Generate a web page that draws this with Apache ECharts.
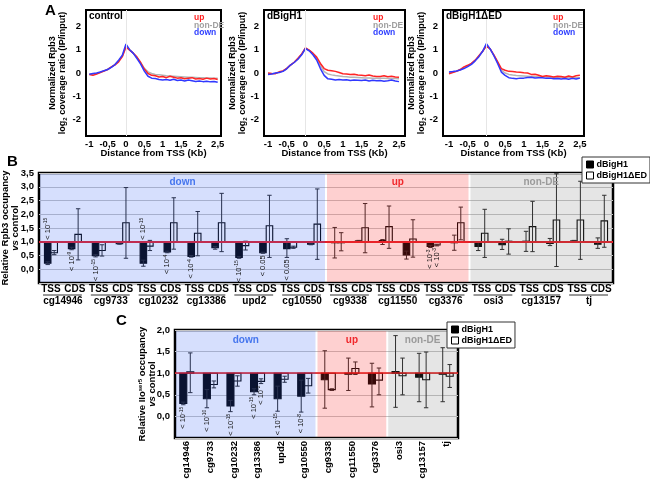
<!DOCTYPE html>
<html><head><meta charset="utf-8">
<script src="https://cdn.jsdelivr.net/npm/echarts@6/dist/echarts.min.js"></script>
<style>html,body{margin:0;padding:0;background:#fff}#c{width:650px;height:479px}</style>
</head><body><div id="c"></div>
<script>
// ---------- Panel A data ----------
const distX = [-1.0,-0.9,-0.8,-0.7,-0.6,-0.5,-0.4,-0.3,-0.2,-0.1,0.0,0.1,0.2,0.3,0.4,0.5,0.6,0.7,0.8,0.9,1.0,1.1,1.2,1.3,1.4,1.5,1.6,1.7,1.8,1.9,2.0,2.1,2.2,2.3,2.4,2.5];
const ctrlUp   = [-0.06,-0.10,-0.04,0.02,0.08,0.15,0.26,0.35,0.48,0.70,1.12,0.98,0.85,0.68,0.45,0.17,-0.02,-0.10,-0.12,-0.17,-0.15,-0.20,-0.14,-0.18,-0.22,-0.20,-0.25,-0.22,-0.20,-0.26,-0.24,-0.27,-0.22,-0.26,-0.24,-0.28];
const ctrlNon  = [-0.05,-0.05,-0.02,0.03,0.09,0.16,0.25,0.36,0.52,0.73,1.16,0.99,0.85,0.66,0.44,0.20,0.05,-0.02,-0.06,-0.08,-0.10,-0.12,-0.13,-0.14,-0.15,-0.16,-0.17,-0.18,-0.18,-0.19,-0.20,-0.20,-0.21,-0.21,-0.22,-0.22];
const ctrlDown = [-0.05,-0.02,0.00,0.04,0.10,0.15,0.24,0.36,0.55,0.76,1.24,1.00,0.84,0.62,0.38,0.08,-0.14,-0.22,-0.24,-0.28,-0.30,-0.28,-0.31,-0.27,-0.32,-0.30,-0.34,-0.30,-0.33,-0.36,-0.34,-0.37,-0.35,-0.38,-0.36,-0.40];
const h1Up   = [0.00,-0.02,-0.03,0.05,0.09,0.20,0.34,0.46,0.63,0.82,1.08,0.98,0.85,0.68,0.41,0.19,0.12,0.10,0.07,0.02,-0.03,-0.04,-0.06,-0.05,-0.09,-0.10,-0.12,-0.09,-0.13,-0.15,-0.15,-0.12,-0.16,-0.14,-0.17,-0.18];
const h1Non  = [-0.03,-0.03,-0.01,0.04,0.08,0.19,0.34,0.46,0.61,0.80,1.06,0.97,0.82,0.62,0.32,0.06,-0.04,-0.08,-0.11,-0.13,-0.15,-0.16,-0.18,-0.18,-0.19,-0.20,-0.21,-0.21,-0.22,-0.22,-0.23,-0.23,-0.24,-0.24,-0.24,-0.25];
const h1Down = [-0.06,-0.04,0.00,0.02,0.07,0.18,0.34,0.45,0.59,0.78,1.05,0.95,0.78,0.56,0.19,-0.10,-0.25,-0.27,-0.30,-0.28,-0.30,-0.29,-0.32,-0.30,-0.31,-0.32,-0.30,-0.34,-0.31,-0.33,-0.32,-0.35,-0.33,-0.30,-0.34,-0.37];
const edUp   = [-0.03,0.02,0.07,0.15,0.26,0.33,0.41,0.55,0.74,0.93,1.15,1.03,0.78,0.49,0.19,0.12,0.07,0.06,0.04,0.03,0.01,0.00,-0.06,-0.05,-0.10,-0.15,-0.12,-0.14,-0.17,-0.14,-0.15,-0.18,-0.13,-0.17,-0.12,-0.10];
const edNon  = [0.00,0.04,0.08,0.14,0.22,0.30,0.39,0.53,0.72,0.93,1.20,1.03,0.76,0.45,0.12,0.00,-0.06,-0.09,-0.11,-0.12,-0.13,-0.14,-0.15,-0.15,-0.16,-0.16,-0.17,-0.17,-0.18,-0.18,-0.18,-0.19,-0.19,-0.19,-0.20,-0.20];
const edDown = [0.04,0.06,0.09,0.13,0.19,0.27,0.37,0.52,0.70,0.93,1.26,1.03,0.74,0.41,0.04,-0.10,-0.20,-0.23,-0.25,-0.22,-0.22,-0.19,-0.18,-0.21,-0.20,-0.20,-0.23,-0.22,-0.25,-0.24,-0.26,-0.24,-0.27,-0.23,-0.26,-0.22];
const aXTicks = [-1,-0.5,0,0.5,1,1.5,2,2.5];
const aYTicks = [-2,-1,0,1,2];

// ---------- Panel B data ----------
const bGenes = ['cg14946','cg9733','cg10232','cg13386','upd2','cg10550','cg9338','cg11550','cg3376','osi3','cg13157','tj'];
const bCats = ['TSS','CDS','TSS','CDS','TSS','CDS','TSS','CDS','TSS','CDS','TSS','CDS','TSS','CDS','TSS','CDS','TSS','CDS','TSS','CDS','TSS','CDS','TSS','CDS'];
const bBlack   = [0.22,0.75,0.49,0.93,0.22,0.63,0.47,0.78,0.43,0.60,0.75,0.91,0.98,1.03,1.04,0.52,0.83,0.98,0.83,0.89,1.02,0.94,1.03,0.91];
const bBlackLo = [0.17,0.71,0.45,0.91,0.11,0.60,0.44,0.73,0.40,0.58,0.43,0.89,0.41,1.01,0.90,0.37,0.79,0.69,0.68,0.72,0.65,0.86,1.01,0.76];
const bBlackHi = [0.27,0.80,0.53,0.95,0.33,0.66,0.50,0.83,0.46,0.62,1.11,0.93,1.52,1.05,1.08,0.66,0.87,1.24,0.98,1.09,1.38,1.12,1.05,1.14];
const bWhite   = [0.60,1.27,0.68,1.69,0.84,1.69,1.31,1.69,0.86,1.58,0.80,1.64,0.98,1.51,1.55,1.10,0.88,1.69,1.31,1.02,1.55,1.79,1.79,1.76];
const bWhiteLo = [0.53,0.34,0.48,0.40,0.68,0.73,0.49,0.64,0.70,0.43,0.76,0.36,0.67,0.60,0.76,0.44,0.85,1.07,0.43,0.55,0.64,0.10,0.36,0.80];
const bWhiteHi = [0.68,2.20,0.89,2.97,1.05,2.60,2.10,2.76,1.02,2.69,0.84,2.92,1.33,2.39,2.30,1.80,0.91,2.26,2.18,1.47,2.47,3.47,3.20,2.69];
const bRegions = [['down',0,11],['up',12,17],['non-DE',18,23]];
const bNoteIdx   = [0,1,2,4,5,6,8,9,10,16,16];
const bNoteWhite = [0,0,0,0,0,0,0,0,0,0,1];
const bNoteAbove = [1,0,0,1,0,0,0,0,0,0,0];
const bNoteText  = ['< 10{s|-15}','< 10{s|-9}','< 10{s|-15}','< 10{s|-15}','< 10{s|-4}','< 10{s|-4}','< 10{s|-15}','< 0.05','< 0.05','< 10{s|-3}','< 10{s|-3}'];

// ---------- Panel C data ----------
const cGenes = ['cg14946','cg9733','cg10232','cg13386','upd2','cg10550','cg9338','cg11550','cg3376','osi3','cg13157','tj'];
const cBlack   = [0.30,0.41,0.24,0.57,0.41,0.47,0.85,0.98,0.75,1.04,0.91,1.00];
const cBlackLo = [0.27,0.20,0.11,0.50,0.12,0.10,0.19,0.60,0.22,0.21,0.34,0.34];
const cBlackHi = [0.33,0.62,0.37,0.64,0.70,0.84,1.52,1.35,1.23,1.87,1.46,1.59];
const cWhite   = [1.03,0.74,0.82,0.81,0.86,0.71,0.62,1.11,0.84,0.94,0.85,0.93];
const cWhiteLo = [0.55,0.66,0.70,0.76,0.79,0.54,0.60,0.97,0.50,0.50,0.20,0.67];
const cWhiteHi = [1.47,0.82,0.94,0.87,0.93,0.88,0.64,1.26,1.12,1.35,1.49,1.20];
const cRegions = [['down',0,5],['up',6,8],['non-DE',9,11]];
const cNoteIdx   = [0,1,2,3,3,4,5];
const cNoteWhite = [0,0,0,0,1,0,0];
const cNoteAbove = [0,0,0,0,0,0,0];
const cNoteText  = ['< 10{s|-15}','< 10{s|-10}','< 10{s|-15}','< 10{s|-15}','< 10{s|-2}','< 10{s|-15}','< 10{s|-8}'];

// ---------- styling ----------
const FONT = "'Liberation Sans', Arial, Helvetica, sans-serif";
const regionFill = {'down':'rgba(52,95,243,0.2)','up':'rgba(250,40,40,0.22)','non-DE':'rgba(100,100,100,0.17)'};
const regionText = {'down':'#4676ee','up':'#f0282c','non-DE':'#9a9a9a'};
const comma = (v, d) => (d === undefined ? String(v) : v.toFixed(d)).replace('.', ',');

const chart = echarts.init(document.getElementById('c'), null, {renderer:'canvas'});

const aPanels = [
  {title:'control', up:ctrlUp, non:ctrlNon, down:ctrlDown, left:86, width:135, xmin:-1.09, xmax:2.59, legLeft:194, gap:18},
  {title:'dBigH1', up:h1Up, non:h1Non, down:h1Down, left:264, width:141, xmin:-1.107, xmax:2.66, legLeft:373, gap:16},
  {title:'dBigH1\u0394ED', up:edUp, non:edNon, down:edDown, left:443, width:141, xmin:-1.16, xmax:2.61, legLeft:553, gap:16}
];

const grids = [], xAxes = [], yAxes = [], series = [], titles = [];
const zip = arr => distX.map((x, i) => [x, arr[i]]);

aPanels.forEach((p, k) => {
  grids.push({left:p.left, top:10, width:p.width, height:126, show:true, borderColor:'#000', borderWidth:2, backgroundColor:'#fff', containLabel:false, outerBoundsMode:'none'});
  xAxes.push({type:'value', gridIndex:k, min:p.xmin, max:p.xmax,
    name:'Distance from TSS (Kb)', nameLocation:'middle', nameGap:12, nameMoveOverlap:false,
    nameTextStyle:{fontFamily:FONT, fontWeight:'bold', fontSize:9.5, color:'#000'},
    axisLine:{show:false}, axisTick:{show:false, customValues:aXTicks}, splitLine:{show:false},
    axisLabel:{customValues:aXTicks, margin:3, fontFamily:FONT, fontWeight:'bold', fontSize:9.5, color:'#000', formatter:v => comma(v)}});
  yAxes.push({type:'value', gridIndex:k, min:-2.7, max:2.7,
    name:'{a|Normalized Rpb3}\n{a|log}{sub|2}{a| coverage ratio (IP/input)}', nameLocation:'middle', nameGap:p.gap, nameMoveOverlap:false,
    nameTextStyle:{rich:{a:{fontFamily:FONT, fontWeight:'bold', fontSize:9, lineHeight:10, color:'#000'},
                         sub:{fontFamily:FONT, fontWeight:'bold', fontSize:6, lineHeight:10, verticalAlign:'bottom', color:'#000'}}},
    axisLine:{show:false}, axisTick:{show:false, customValues:aYTicks}, splitLine:{show:false},
    axisLabel:{customValues:aYTicks, margin:5, fontFamily:FONT, fontWeight:'bold', fontSize:9.5, color:'#000'}});
  series.push({type:'line', xAxisIndex:k, yAxisIndex:k, data:[], z:1, silent:true,
    markLine:{silent:true, symbol:'none', label:{show:false}, lineStyle:{color:'#e6e6e6', width:1, type:'solid'}, data:[{xAxis:0}], animation:false}});
  series.push({type:'line', name:'non-DE', xAxisIndex:k, yAxisIndex:k, data:zip(p.non), showSymbol:false, lineStyle:{color:'#b4b4b4', width:1.5}, itemStyle:{color:'#b4b4b4'}, z:2});
  series.push({type:'line', name:'up', xAxisIndex:k, yAxisIndex:k, data:zip(p.up), showSymbol:false, lineStyle:{color:'#ff2424', width:1.5}, itemStyle:{color:'#ff2424'}, z:3});
  series.push({type:'line', name:'down', xAxisIndex:k, yAxisIndex:k, data:zip(p.down), showSymbol:false, lineStyle:{color:'#3038ff', width:1.5}, itemStyle:{color:'#3038ff'}, z:4});
  titles.push({text:p.title, left:p.left + 3, top:11, padding:0, textStyle:{fontFamily:FONT, fontWeight:'bold', fontSize:10, color:'#000'}});
  titles.push({text:'{u|up}\n{n|non-DE}\n{d|down}', left:p.legLeft, top:14, padding:0,
    textStyle:{rich:{u:{fontFamily:FONT, fontWeight:'bold', fontSize:8.5, lineHeight:7.6, color:'#ff2020'},
                     n:{fontFamily:FONT, fontWeight:'bold', fontSize:8.5, lineHeight:7.6, color:'#a0a0a0'},
                     d:{fontFamily:FONT, fontWeight:'bold', fontSize:8.5, lineHeight:7.6, color:'#3040ff'}}}});
});
titles.push({text:'A', left:45, top:3, padding:0, textStyle:{fontFamily:FONT, fontWeight:'bold', fontSize:15, color:'#000'}});
titles.push({text:'B', left:7, top:154, padding:0, textStyle:{fontFamily:FONT, fontWeight:'bold', fontSize:15, color:'#000'}});
titles.push({text:'C', left:116, top:313, padding:0, textStyle:{fontFamily:FONT, fontWeight:'bold', fontSize:15, color:'#000'}});

// ---------- helpers for bar panels ----------
function barSeries(name, xi, yi, vals, los, his, side, fill, barW) {
  return {type:'custom', name, xAxisIndex:xi, yAxisIndex:yi, z:2,
    itemStyle:{color:fill, borderColor:'#000', borderWidth:1},
    data: vals.map((v, i) => [i, v, los[i], his[i]]), encode:{x:0, y:[1,2,3]},
    renderItem(params, api) {
      const i = api.value(0);
      const p = api.coord([i, api.value(1)]), b = api.coord([i, 1]);
      const lo = api.coord([i, api.value(2)]), hi = api.coord([i, api.value(3)]);
      const xc = p[0] + side * barW / 2;
      const top = Math.min(p[1], b[1]), h = Math.max(Math.abs(p[1] - b[1]), 1);
      const ws = {stroke:'#262626', lineWidth:1};
      return {type:'group', children:[
        {type:'rect', shape:{x:xc - barW/2, y:top, width:barW, height:h}, style:{fill, stroke:'#000', lineWidth:1.1}},
        {type:'line', shape:{x1:xc, y1:hi[1], x2:xc, y2:lo[1]}, style:ws},
        {type:'line', shape:{x1:xc-2.2, y1:hi[1], x2:xc+2.2, y2:hi[1]}, style:ws},
        {type:'line', shape:{x1:xc-2.2, y1:lo[1], x2:xc+2.2, y2:lo[1]}, style:ws}
      ]};
    }};
}
function regionSeries(xi, yi, regs, yMin, yMax, labelOff, fontSize) {
  return {type:'custom', xAxisIndex:xi, yAxisIndex:yi, z:5, silent:true,
    data: regs.map(r => [r[1], r[2], 1]), encode:{x:[0,1], y:2},
    renderItem(params, api) {
      const r = regs[params.dataIndex];
      const band = api.size([1, 0])[0];
      const x0 = api.coord([r[1], yMin])[0] - band/2, x1 = api.coord([r[2], yMin])[0] + band/2;
      const yT = api.coord([r[1], yMax])[1], yB = api.coord([r[1], yMin])[1];
      return {type:'group', children:[
        {type:'rect', shape:{x:x0 + 1, y:yT + 1, width:x1 - x0 - 2, height:yB - yT - 2}, style:{fill:regionFill[r[0]]}},
        {type:'text', x:(x0 + x1)/2, y:yT + labelOff, z2:10, style:{text:r[0], fill:regionText[r[0]], fontFamily:FONT, fontWeight:'bold', fontSize, align:'center', verticalAlign:'middle'}}
      ]};
    }};
}
function noteSeries(xi, yi, idx, white, above, text, kLo, wLo, barW) {
  return {type:'custom', xAxisIndex:xi, yAxisIndex:yi, z:7, silent:true,
    data: idx.map((c, j) => [c, above[j] ? 1 : (white[j] ? wLo[c] : kLo[c])]), encode:{x:0, y:1},
    renderItem(params, api) {
      const j = params.dataIndex;
      const p = api.coord([api.value(0), api.value(1)]);
      const x = p[0] + (white[j] ? 1 : -1) * barW / 2;
      const up = above[j];
      return {type:'text', x, y: p[1] + (up ? -2 : 2), rotation: Math.PI/2,
        style:{text:text[j], align: up ? 'left' : 'right', verticalAlign:'middle', fill:'#111',
          fontFamily:FONT, fontSize:7.5,
          rich:{s:{fontFamily:FONT, fontSize:5, verticalAlign:'top', fill:'#111', lineHeight:9}}}};
    }};
}
function redLine(xi, yi, z, width, color) {
  return {type:'line', xAxisIndex:xi, yAxisIndex:yi, data:[], z, silent:true,
    markLine:{silent:true, symbol:'none', label:{show:false}, lineStyle:{color, width, type:'solid'}, data:[{yAxis:1}], animation:false}};
}

// ---------- Panel B ----------
grids.push({left:39, top:173, width:574, height:110, show:true, borderColor:'#000', borderWidth:2.5, backgroundColor:'#fff', containLabel:false, outerBoundsMode:'none'});
xAxes.push({type:'category', gridIndex:3, data:bCats, axisLine:{show:false}, axisTick:{show:false},
  axisLabel:{margin:1, interval:0, fontFamily:FONT, fontWeight:'bold', fontSize:10, color:'#000'}});
xAxes.push({type:'category', gridIndex:3, data:bGenes, position:'bottom', offset:12, axisLine:{show:false}, axisTick:{show:false},
  axisLabel:{margin:1, interval:0, fontFamily:FONT, fontWeight:'bold', fontSize:10, color:'#000'}});
yAxes.push({type:'value', gridIndex:3, min:-0.5, max:3.5, interval:0.5,
  name:'{a|Relative Rpb3 occupancy}\n{i|vs}{a| control}', nameLocation:'middle', nameGap:19, nameMoveOverlap:false,
  nameTextStyle:{rich:{a:{fontFamily:FONT, fontWeight:'bold', fontSize:9.5, lineHeight:10, color:'#000'},
                       i:{fontFamily:FONT, fontWeight:'bold', fontStyle:'italic', fontSize:9.5, lineHeight:10, color:'#000'}}},
  axisLine:{show:false}, axisTick:{show:false}, splitLine:{show:true, lineStyle:{color:'#c4c4c4', width:1}},
  axisLabel:{margin:5, fontFamily:FONT, fontWeight:'bold', fontSize:9.5, color:'#000', formatter:v => v < 0 ? '' : comma(v, 1)}});
const BW_B = 6.5;
series.push(barSeries('dBigH1', 3, 3, bBlack, bBlackLo, bBlackHi, -1, '#000', BW_B));
series.push(barSeries('dBigH1\u0394ED', 3, 3, bWhite, bWhiteLo, bWhiteHi, 1, '#fff', BW_B));
series.push(redLine(3, 3, 3, 2, '#e42028'));
series.push(regionSeries(3, 3, bRegions, -0.5, 3.5, 9, 10));
series.push({type:'custom', xAxisIndex:3, yAxisIndex:3, z:4, silent:true,
  data: bGenes.map((g, i) => [2*i, 2*i + 1, 1]), encode:{x:[0,1], y:2},
  renderItem(params, api) {
    const band = api.size([1, 0])[0];
    const xa = api.coord([api.value(0), -0.5])[0] - band/2 + 4;
    const xb = api.coord([api.value(1), -0.5])[0] + band/2 - 5;
    const y = api.coord([api.value(0), -0.5])[1] + 12;
    return {type:'line', shape:{x1:xa, y1:y, x2:xb, y2:y}, style:{stroke:'#333', lineWidth:1}};
  }});
series.push(noteSeries(3, 3, bNoteIdx, bNoteWhite, bNoteAbove, bNoteText, bBlackLo, bWhiteLo, BW_B));

// ---------- Panel C ----------
grids.push({left:175, top:330, width:283, height:108, show:true, borderColor:'#000', borderWidth:2.5, backgroundColor:'#fff', containLabel:false, outerBoundsMode:'none'});
xAxes.push({type:'category', gridIndex:4, data:cGenes, axisLine:{show:false}, axisTick:{show:false},
  axisLabel:{margin:3, interval:0, rotate:90, fontFamily:FONT, fontWeight:'bold', fontSize:9.5, color:'#000'}});
yAxes.push({type:'value', gridIndex:4, min:-0.5, max:2.0, interval:0.5,
  name:'{a|Relative IIo}{s|ser5}{a| occupancy}\n{i|vs}{a| control}', nameLocation:'middle', nameGap:18, nameMoveOverlap:false,
  nameTextStyle:{rich:{a:{fontFamily:FONT, fontWeight:'bold', fontSize:9.5, lineHeight:10, color:'#000'},
                       s:{fontFamily:FONT, fontWeight:'bold', fontSize:6, lineHeight:10, verticalAlign:'top', color:'#000'},
                       i:{fontFamily:FONT, fontWeight:'bold', fontStyle:'italic', fontSize:9.5, lineHeight:10, color:'#000'}}},
  axisLine:{show:false}, axisTick:{show:false}, splitLine:{show:true, lineStyle:{color:'#c4c4c4', width:1}},
  axisLabel:{margin:5, fontFamily:FONT, fontWeight:'bold', fontSize:9.5, color:'#000', formatter:v => v < 0 ? '' : comma(v, 1)}});
const BW_C = 7;
series.push(barSeries('dBigH1', 5, 4, cBlack, cBlackLo, cBlackHi, -1, '#000', BW_C));
series.push(barSeries('dBigH1\u0394ED', 5, 4, cWhite, cWhiteLo, cWhiteHi, 1, '#fff', BW_C));
series.push(regionSeries(5, 4, cRegions, -0.5, 2.0, 10, 10));
series.push(redLine(5, 4, 6, 1.6, '#e41010'));
series.push(noteSeries(5, 4, cNoteIdx, cNoteWhite, cNoteAbove, cNoteText, cBlackLo, cWhiteLo, BW_C));

const legendBase = {orient:'vertical', icon:'rect', itemWidth:7, itemHeight:7, itemGap:2, padding:[3,3,3,4],
  borderColor:'#333', borderWidth:1, backgroundColor:'#fff', selectedMode:false, z:20,
  textStyle:{fontFamily:FONT, fontWeight:'bold', fontSize:9, color:'#000', padding:[0,0,0,-2]},
  data:[{name:'dBigH1', itemStyle:{color:'#000', borderColor:'#000', borderWidth:1}},
        {name:'dBigH1\u0394ED', itemStyle:{color:'#fff', borderColor:'#000', borderWidth:1}}]};

chart.setOption({
  animation:false,
  backgroundColor:'#fff',
  title: titles,
  legend: [Object.assign({}, legendBase, {left:582, top:157}), Object.assign({}, legendBase, {left:447, top:322})],
  grid: grids, xAxis: xAxes, yAxis: yAxes, series
});
</script></body></html>
